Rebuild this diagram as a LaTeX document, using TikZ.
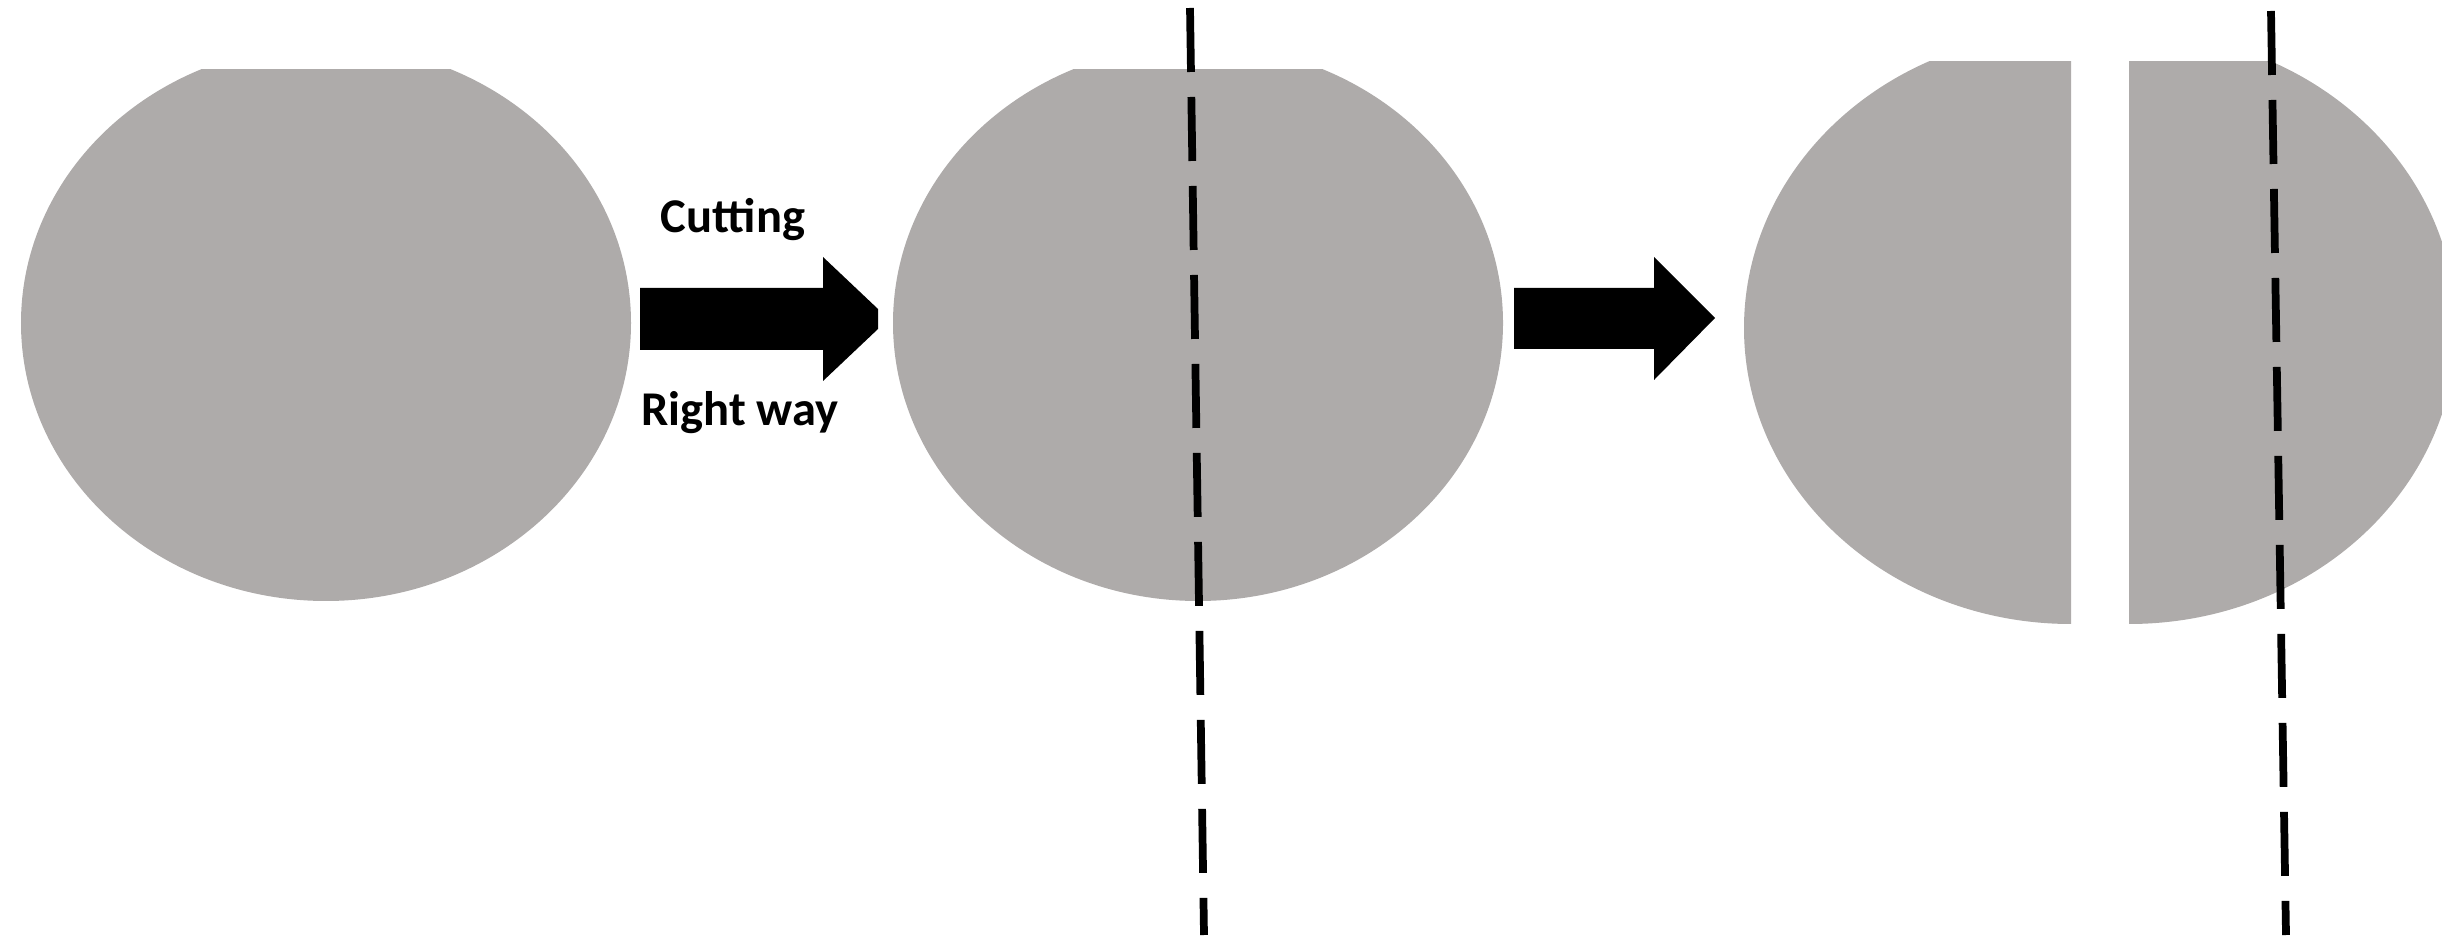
\documentclass[tikz,border=0pt]{standalone}
\usepackage{fontspec}
\setmainfont{Carlito}
\definecolor{wafergray}{HTML}{AEABAA}
\tikzset{
  wafer/.style={fill=wafergray,draw=none},
  blockarrow/.style={fill=black,draw=none},
  cutline/.style={draw=black,line width=2.2pt,dash pattern=on 0.64cm off 0.25cm},
  captext/.style={font=\bfseries\fontsize{13.8}{16}\selectfont,text=black,inner sep=0pt,anchor=base}
}
\begin{document}
\begin{tikzpicture}[x=1cm,y=1cm]
\path[use as bounding box] (0,0) rectangle (24.42,9.35);
% whole wafers
\begin{scope}
\clip (0,0) rectangle (24.42,8.65);
\fill[wafer] (3.26,6.12) ellipse [x radius=3.05,y radius=2.78];
\fill[wafer] (11.98,6.12) ellipse [x radius=3.05,y radius=2.78];
\end{scope}
% cut wafer, two halves
\begin{scope}
\clip (0,0) rectangle (20.71,8.73);
\fill[wafer] (20.71,6.07) ellipse [x radius=3.27,y radius=2.96];
\end{scope}
\begin{scope}
\clip (21.29,0) rectangle (24.42,8.73);
\fill[wafer] (21.29,6.07) ellipse [x radius=3.27,y radius=2.96];
\end{scope}
% arrows
\fill[blockarrow] (6.40,6.47)--(8.23,6.47)--(8.23,6.78)--(8.78,6.26)--(8.78,6.06)--(8.23,5.54)--(8.23,5.85)--(6.40,5.85)--cycle;
\fill[blockarrow] (15.14,6.47)--(16.54,6.47)--(16.54,6.78)--(17.15,6.17)--(16.54,5.55)--(16.54,5.86)--(15.14,5.86)--cycle;
\node[captext] (cut) at (7.33,7.02) {Cutting};
\node[captext] (way) at (7.40,5.09) {Right way};
% cut lines
\coordinate (cutAtop) at (11.90,9.27); \coordinate (cutAbot) at (12.04,0);
\coordinate (cutBtop) at (22.71,9.24); \coordinate (cutBbot) at (22.86,0);
\draw[cutline] (cutAtop)--(cutAbot);
\draw[cutline] (cutBtop)--(cutBbot);
\end{tikzpicture}
\end{document}
